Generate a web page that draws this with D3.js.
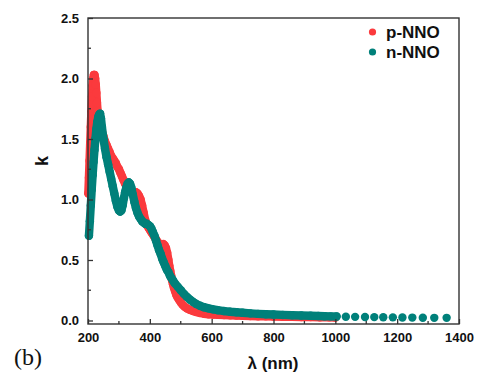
<!DOCTYPE html>
<html>
<head>
<meta charset="utf-8">
<script src="https://cdn.jsdelivr.net/npm/d3@7"></script>
<style>
  html, body { margin: 0; padding: 0; background: #fff; }
  svg { display: block; }
  text { font-family: "Liberation Sans", Arial, sans-serif; font-weight: bold; fill: #111; }
</style>
</head>
<body>
<div id="chart"></div>
<script>
// ---- data ----
const seriesNames = ["p-NNO", "n-NNO"];
const seriesColors = ["#fb3a3d", "#00807a"];

// p-NNO : wavelength (nm) and extinction coefficient k
const pWave = [201, 203, 205, 207, 209, 211, 213, 215, 217, 219, 221, 223, 225, 227, 229, 231, 233, 236, 240, 245, 250, 255, 260, 265, 270, 275, 280, 285, 290, 295, 300, 305, 310, 315, 320, 325, 330, 335, 340, 345, 350, 355, 360, 365, 370, 375, 380, 385, 390, 395, 400, 405, 410, 415, 420, 425, 430, 435, 440, 444, 448, 452, 456, 460, 463, 466, 469, 472, 475, 478, 482, 486, 490, 495, 500, 506, 512, 520, 530, 540, 550, 562, 575, 590, 605, 620, 640, 660, 680, 700, 725, 750, 775, 800, 830, 860, 890, 920, 950, 980, 1000];
const pK    = [1.05, 1.18, 1.32, 1.46, 1.60, 1.73, 1.85, 1.94, 2.00, 2.03, 2.03, 2.00, 1.95, 1.88, 1.80, 1.73, 1.68, 1.63, 1.60, 1.56, 1.52, 1.48, 1.45, 1.42, 1.39, 1.36, 1.34, 1.32, 1.30, 1.27, 1.25, 1.22, 1.19, 1.16, 1.13, 1.11, 1.09, 1.08, 1.07, 1.06, 1.06, 1.06, 1.05, 1.03, 1.00, 0.95, 0.89, 0.83, 0.79, 0.77, 0.75, 0.73, 0.71, 0.69, 0.67, 0.65, 0.63, 0.62, 0.62, 0.63, 0.62, 0.60, 0.56, 0.50, 0.45, 0.41, 0.37, 0.33, 0.30, 0.27, 0.24, 0.21, 0.19, 0.17, 0.15, 0.13, 0.115, 0.10, 0.088, 0.078, 0.070, 0.062, 0.056, 0.052, 0.049, 0.047, 0.045, 0.043, 0.041, 0.039, 0.037, 0.035, 0.034, 0.032, 0.031, 0.030, 0.029, 0.028, 0.027, 0.026, 0.025];

// n-NNO : wavelength (nm) and extinction coefficient k
const nWave = [203, 206, 209, 212, 215, 218, 221, 224, 227, 230, 233, 236, 239, 242, 245, 250, 255, 260, 265, 270, 275, 280, 285, 290, 295, 300, 304, 308, 312, 316, 320, 324, 328, 332, 336, 340, 345, 350, 355, 360, 365, 370, 375, 380, 385, 390, 395, 400, 405, 410, 415, 420, 425, 430, 435, 440, 445, 450, 455, 460, 465, 470, 475, 480, 490, 500, 510, 520, 530, 540, 550, 562, 575, 590, 605, 620, 640, 660, 680, 700, 725, 750, 775, 800, 830, 860, 890, 920, 945, 965, 985, 1004, 1034, 1064, 1096, 1126, 1155, 1186, 1217, 1249, 1283, 1320, 1360];
const nK    = [0.70, 0.82, 0.95, 1.08, 1.20, 1.31, 1.41, 1.50, 1.58, 1.64, 1.68, 1.70, 1.71, 1.67, 1.60, 1.50, 1.42, 1.35, 1.29, 1.23, 1.17, 1.11, 1.05, 0.99, 0.94, 0.91, 0.90, 0.91, 0.95, 1.01, 1.06, 1.10, 1.13, 1.14, 1.13, 1.10, 1.04, 0.98, 0.93, 0.89, 0.86, 0.84, 0.82, 0.81, 0.80, 0.80, 0.79, 0.78, 0.76, 0.73, 0.70, 0.66, 0.62, 0.58, 0.55, 0.51, 0.48, 0.45, 0.42, 0.40, 0.37, 0.35, 0.33, 0.31, 0.28, 0.25, 0.22, 0.195, 0.172, 0.153, 0.137, 0.122, 0.110, 0.100, 0.092, 0.085, 0.078, 0.072, 0.068, 0.064, 0.059, 0.055, 0.052, 0.049, 0.046, 0.043, 0.041, 0.039, 0.037, 0.035, 0.034, 0.033, 0.031, 0.030, 0.029, 0.028, 0.027, 0.026, 0.025, 0.024, 0.023, 0.022, 0.022];

const xTicks = [200, 400, 600, 800, 1000, 1200, 1400];
const yTicks = [0.0, 0.5, 1.0, 1.5, 2.0, 2.5];
const xMinorTicks = [300, 500, 700, 900, 1100, 1300];
const yMinorTicks = [0.25, 0.75, 1.25, 1.75, 2.25];
const xTitle = "λ (nm)";
const yTitle = "k";
const panelLabel = "(b)";

// ---- drawing ----
const W = 481, H = 375;
const svg = d3.select("#chart").append("svg").attr("width", W).attr("height", H);

const x = d3.scaleLinear().domain([200, 1400]).range([88, 459]);
const y = d3.scaleLinear().domain([-0.029, 2.5]).range([324, 18]);

const axisColor = "#333";

const series = [
  { name: seriesNames[0], color: seriesColors[0], data: pWave.map((w, i) => ({ w, k: pK[i] })) },
  { name: seriesNames[1], color: seriesColors[1], data: nWave.map((w, i) => ({ w, k: nK[i] })) }
];

const line = d3.line().x(d => x(d.w)).y(d => y(d.k)).curve(d3.curveLinear);
const R = 4.2;

series.forEach(s => {
  const g = svg.append("g");
  const dense = s.data.filter(d => d.w <= 1004);
  g.append("path").datum(dense)
    .attr("d", line)
    .attr("fill", "none")
    .attr("stroke", s.color)
    .attr("stroke-width", 2 * R)
    .attr("stroke-linejoin", "round")
    .attr("stroke-linecap", "round");
  g.selectAll("circle").data(s.data).enter().append("circle")
    .attr("cx", d => x(d.w)).attr("cy", d => y(d.k)).attr("r", R)
    .attr("fill", s.color);
});

// axes
const xAxis = d3.axisBottom(x).tickValues(xTicks).tickSizeInner(-5).tickSizeOuter(0).tickPadding(9).tickFormat(d3.format("d"));
const yAxis = d3.axisLeft(y).tickValues(yTicks).tickSizeInner(-5).tickSizeOuter(0).tickPadding(9).tickFormat(d3.format(".1f"));

const gx = svg.append("g").attr("transform", "translate(0,324)").call(xAxis);
const gy = svg.append("g").attr("transform", "translate(88,0)").call(yAxis);
[gx, gy].forEach(g => {
  g.select(".domain").remove();
  g.selectAll("line").attr("stroke", axisColor).attr("stroke-width", 1.3);
  g.selectAll("text").attr("font-size", 13).attr("font-family", "Liberation Sans, Arial, sans-serif").attr("font-weight", "bold").attr("fill", "#111");
});
gx.selectAll("text").attr("dy", "0.71em");

// minor ticks
svg.append("g").selectAll("line").data(xMinorTicks).enter().append("line")
  .attr("x1", d => x(d)).attr("x2", d => x(d)).attr("y1", 324).attr("y2", 321)
  .attr("stroke", axisColor).attr("stroke-width", 1.3);
svg.append("g").selectAll("line").data(yMinorTicks).enter().append("line")
  .attr("y1", d => y(d)).attr("y2", d => y(d)).attr("x1", 88).attr("x2", 91)
  .attr("stroke", axisColor).attr("stroke-width", 1.3);

// frame
svg.append("rect").attr("x", 88).attr("y", 18).attr("width", 459 - 88).attr("height", 324 - 18)
  .attr("fill", "none").attr("stroke", axisColor).attr("stroke-width", 1.4);

// titles
svg.append("text").attr("x", 273).attr("y", 369).attr("text-anchor", "middle")
  .attr("font-size", 17).text(xTitle);
svg.append("text").attr("transform", "translate(48,161) rotate(-90)").attr("text-anchor", "middle")
  .attr("font-size", 18).text(yTitle);
svg.append("text").attr("x", 14).attr("y", 365)
  .style("font-family", "Liberation Serif, 'Times New Roman', serif").style("font-weight", "normal")
  .attr("font-size", 24).text(panelLabel);

// legend
const leg = svg.append("g");
series.forEach((s, i) => {
  const yy = 32 + i * 20;
  leg.append("circle").attr("cx", 372.5).attr("cy", yy).attr("r", 3.6).attr("fill", s.color);
  leg.append("text").attr("x", 386).attr("y", yy + 5.5).attr("font-size", 17).text(s.name);
});
</script>
</body>
</html>
